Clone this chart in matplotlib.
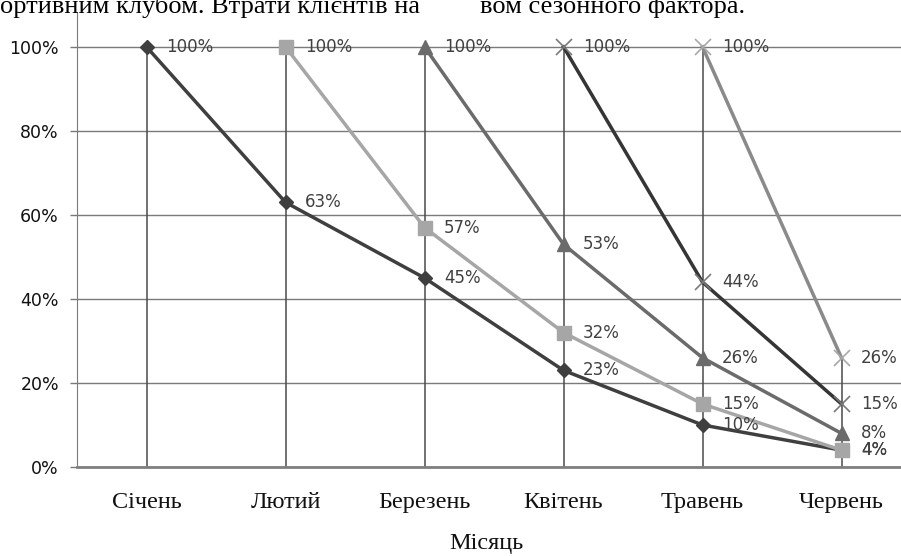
import matplotlib.pyplot as plt
from matplotlib.ticker import PercentFormatter

# retention of client cohorts by starting month
months = ["Січень", "Лютий", "Березень", "Квітень", "Травень", "Червень"]
jan_cohort = [1.00, 0.63, 0.45, 0.23, 0.10, 0.04]
feb_cohort = [1.00, 0.57, 0.32, 0.15, 0.04]
mar_cohort = [1.00, 0.53, 0.26, 0.08]
apr_cohort = [1.00, 0.44, 0.15]
may_cohort = [1.00, 0.26]

# (values, first month index, line colour, marker, marker colour, marker size)
series = [
    (jan_cohort, 0, "#3f3f3f", "D", "#3f3f3f", 7),
    (feb_cohort, 1, "#a6a6a6", "s", "#a6a6a6", 10),
    (mar_cohort, 2, "#6b6b6b", "^", "#6b6b6b", 10),
    (apr_cohort, 3, "#353535", "x", "#7a7a7a", 11),
    (may_cohort, 4, "#8a8a8a", "x", "#a8a8a8", 11),
]

plt.rcParams["font.family"] = ["DejaVu Sans"]

fig = plt.figure(figsize=(9.01, 5.56), dpi=100)
ax = fig.add_axes([77 / 901, 89 / 556, 834 / 901, 455 / 556])

x_all = list(range(len(months)))

# drop lines from the highest point of each month down to the axis
tops = [0.0] * len(months)
for vals, start, *_ in series:
    for i, v in enumerate(vals):
        tops[start + i] = max(tops[start + i], v)
ax.vlines(x_all, 0, tops, color="#4a4a4a", lw=1.1, zorder=1)

for vals, start, lc, mk, mc, ms in series:
    xs = list(range(start, start + len(vals)))
    ax.plot(xs, vals, color=lc, lw=2.5, zorder=3)
    ax.plot(xs, vals, ls="none", marker=mk, ms=ms, color=mc,
            mec=mc, mew=1.2 if mk == "x" else 1, zorder=4)
    for x, v in zip(xs, vals):
        ax.annotate(f"{v:.0%}", (x, v), xytext=(14, 0),
                    textcoords="offset points", ha="left", va="center",
                    fontsize=12, color="#404040", zorder=5)

ax.set_xlim(-0.5, len(months) - 0.5)
ax.set_ylim(0, 1.083)
ax.set_yticks([0, 0.2, 0.4, 0.6, 0.8, 1.0])
ax.yaxis.set_major_formatter(PercentFormatter(1.0, decimals=0))
ax.grid(axis="y", color="#7a7a7a", lw=1)
ax.set_axisbelow(True)

ax.set_xticks(x_all)
ax.set_xticklabels(months, family="Liberation Serif", fontsize=17.5, color="#111111")
ax.tick_params(axis="x", length=0, pad=18)
ax.tick_params(axis="y", length=5, width=1, color="#7a7a7a",
               labelsize=12.5, pad=8, labelcolor="#111111")

for side in ["top", "right"]:
    ax.spines[side].set_visible(False)
ax.spines["left"].set_color("#7a7a7a")
ax.spines["bottom"].set_color("#808080")
ax.spines["bottom"].set_linewidth(2)

fig.text(486 / 901, 1 - 544 / 556, "Місяць", family="Liberation Serif",
         fontsize=17.5, ha="center", va="center", color="#111111")

# text of the page above the chart, cut at the top
fig.text(0.0, 1 - 13 / 556, "ортивним клубом. Втрати клієнтів на",
         family="Liberation Serif", fontsize=19, ha="left", va="baseline")
fig.text(480 / 901, 1 - 13 / 556, "вом сезонного фактора.",
         family="Liberation Serif", fontsize=19, ha="left", va="baseline")

fig.savefig("out.png", dpi=100)
